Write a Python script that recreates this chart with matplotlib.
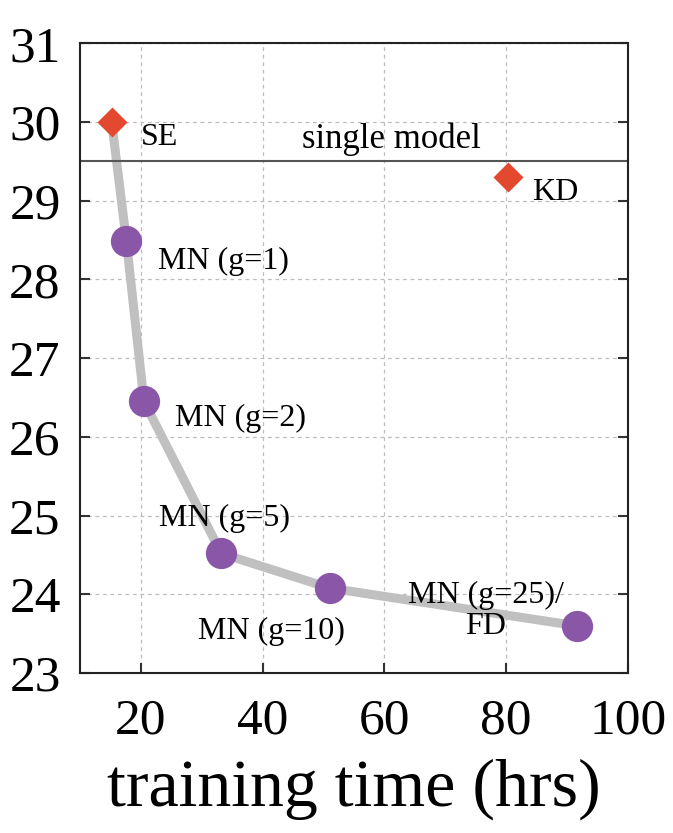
import matplotlib
matplotlib.use("Agg")
import matplotlib.pyplot as plt

# values
mn_hours = [15.2, 17.6, 20.5, 33.2, 51.0, 91.6]
mn_error = [30.0, 28.49, 26.45, 24.52, 24.08, 23.60]
mn_names = ["MN (g=1)", "MN (g=2)", "MN (g=5)", "MN (g=10)", "MN (g=25)/\nFD"]

base_names = ["SE", "KD"]
base_hours = [15.2, 80.3]
base_error = [30.0, 29.3]

single_model = 29.51

x_ticks = [20, 40, 60, 80, 100]
y_ticks = [23, 24, 25, 26, 27, 28, 29, 30, 31]

# label anchors (data coords) and alignment
label_pos = {
    "SE": (20.0, 29.80, "left"),
    "KD": (84.3, 29.10, "left"),
    "MN (g=1)": (22.8, 28.23, "left"),
    "MN (g=2)": (25.6, 26.24, "left"),
    "MN (g=5)": (23.0, 24.96, "left"),
    "MN (g=10)": (29.3, 23.53, "left"),
    "MN (g=25)/\nFD": (76.6, 23.79, "center"),
}

plt.rcParams["font.family"] = ["Liberation Serif", "DejaVu Serif"]

fig = plt.figure(figsize=(6.73, 8.33), dpi=100)
ax = fig.add_axes([0.119, 0.192, 0.814, 0.756])

ax.plot(mn_hours, mn_error, color="#c0c0c0", lw=6.5, zorder=2, solid_capstyle="butt")
ax.plot(mn_hours[1:], mn_error[1:], "o", color="#8a56a8", ms=22.5, mec="none", zorder=3)
ax.plot(base_hours, base_error, "D", color="#e2492f", ms=15, mec="none", zorder=4)
ax.axhline(single_model, color="#555555", lw=1.5, zorder=2)

ax.text(61.1, 29.78, "single model", fontsize=25, ha="center", va="center")
for name in base_names + mn_names:
    x, y, ha = label_pos[name]
    ax.text(x, y, name, fontsize=23, ha=ha, va="center", linespacing=1.1, zorder=5)

ax.set_xlim(10, 100)
ax.set_ylim(23, 31)
ax.set_xticks(x_ticks)
ax.set_yticks(y_ticks)
ax.grid(True, ls=(0, (3, 3)), color="#bdbdbd", lw=0.9)
ax.tick_params(axis="both", direction="in", length=7, width=1.5, labelsize=37, color="#333333")
ax.tick_params(axis="y", right=True, pad=14)
ax.tick_params(axis="x", pad=18)
for s in ax.spines.values():
    s.set_linewidth(1.5)
    s.set_color("#222222")

ax.set_xlabel("training time (hrs)", fontsize=49, labelpad=10)

fig.savefig("out.png", dpi=100)
